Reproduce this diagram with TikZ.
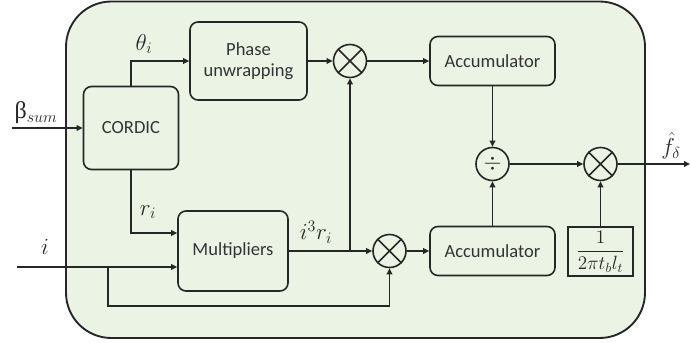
\documentclass[tikz,border=0pt]{standalone}
\usepackage{fontspec}
\setmainfont{Carlito}
\newfontfamily\grk{Liberation Serif}
\usetikzlibrary{arrows.meta,calc}
\definecolor{panel}{HTML}{EBF3E5}
\definecolor{ink}{HTML}{262626}
\definecolor{txt}{HTML}{333333}
\tikzset{
  blk/.style={draw=ink, line width=1.2pt, rounded corners=6pt, fill=panel,
    text=txt, align=center, inner sep=0pt, font=\fontsize{13.9}{16}\selectfont},
  opc/.style={draw=ink, line width=1.2pt, circle, fill=panel, minimum size=24.75pt, inner sep=0pt},
  arr/.style={draw=ink, line width=1.2pt, -{Triangle[length=4.5pt,width=4.2pt]}},
  lbl/.style={text=ink, inner sep=0pt, font=\fontsize{18}{20}\selectfont}
}
\newcommand{\crossmark}[1]{%
  \draw[ink, line width=1.2pt] (#1.north west) -- (#1.south east) (#1.north east) -- (#1.south west);}
\begin{document}
\begin{tikzpicture}[x=0.75pt,y=-0.75pt]
\useasboundingbox (0,0) rectangle (690,343);
% enclosing panel
\draw[ink, line width=1.4pt, fill=panel, rounded corners=34pt] (66,1.5) rectangle (645,338);

% processing blocks
\node[blk, minimum width=71.25pt, minimum height=62.25pt] (cordic) at (131,128) {CORDIC};
\node[blk, minimum width=87.75pt, minimum height=58.5pt] (phase) at (248.5,61) {Phase\\unwrapping};
\node[blk, minimum width=93.75pt, minimum height=36.75pt] (acc1) at (492.5,61) {Accumulator};
\node[blk, minimum width=82.5pt, minimum height=60pt] (mult) at (233,251) {Multipliers};
\node[blk, minimum width=93.75pt, minimum height=36.75pt] (acc2) at (492.5,251) {Accumulator};
\node[draw=ink, line width=1.2pt, fill=panel, minimum width=48.75pt, minimum height=36.75pt,
  inner sep=0pt, text=ink, font=\fontsize{14.5}{16}\selectfont] (frac) at (600.5,251.5)
  {$\displaystyle\frac{1}{2\pi t_b l_t}$};

% operators
\node[opc] (m1) at (350,61) {};
\crossmark{m1}
\node[opc] (m2) at (389.5,251) {};
\crossmark{m2}
\node[opc] (m3) at (600.5,164) {};
\crossmark{m3}
\node[opc, font=\fontsize{16}{18}\selectfont, text=ink] (div) at (492.5,164) {$\div$};

% free ends and junctions
\coordinate (bin) at (12,128);
\coordinate (iin) at (17,267);
\coordinate (br) at (108,267);
\coordinate (bl) at (108,306);
\coordinate (jn) at (350,251);
\coordinate (fout) at (690,164);

% connections
\draw[arr] (bin) -- (cordic.west);
\draw[arr] (cordic.north) |- (phase.west);
\draw[arr] (cordic.south) |- ($(mult.west)+(0,-18)$);
\draw[arr] (iin) -- ($(mult.west)+(0,16)$);
\draw[arr] (br) -- (bl) -| (m2.south);
\draw[arr] (mult.east) -- (m2.west);
\draw[arr] (jn) -- (m1.south);
\draw[arr] (phase.east) -- (m1.west);
\draw[arr] (m1.east) -- (acc1.west);
\draw[arr] (acc1.south) -- (div.north);
\draw[arr] (acc2.north) -- (div.south);
\draw[arr] (m2.east) -- (acc2.west);
\draw[arr] (div.east) -- (m3.west);
\draw[arr] (frac.north) -- (m3.south);
\draw[arr] (m3.east) -- (fout);

% signal labels
\node[lbl] (lbeta) at (36,113) {{\grk β}$_{sum}$};
\node[lbl] (ltheta) at (144,44) {$\theta_i$};
\node[lbl] (lr) at (148,212) {$r_i$};
\node[lbl] (li) at (45,247) {$i$};
\node[lbl] (lir) at (316,232) {$i^3r_i$};
\node[lbl] (lf) at (671,146) {${\hat{f}}_{\delta}$};
\end{tikzpicture}
\end{document}
